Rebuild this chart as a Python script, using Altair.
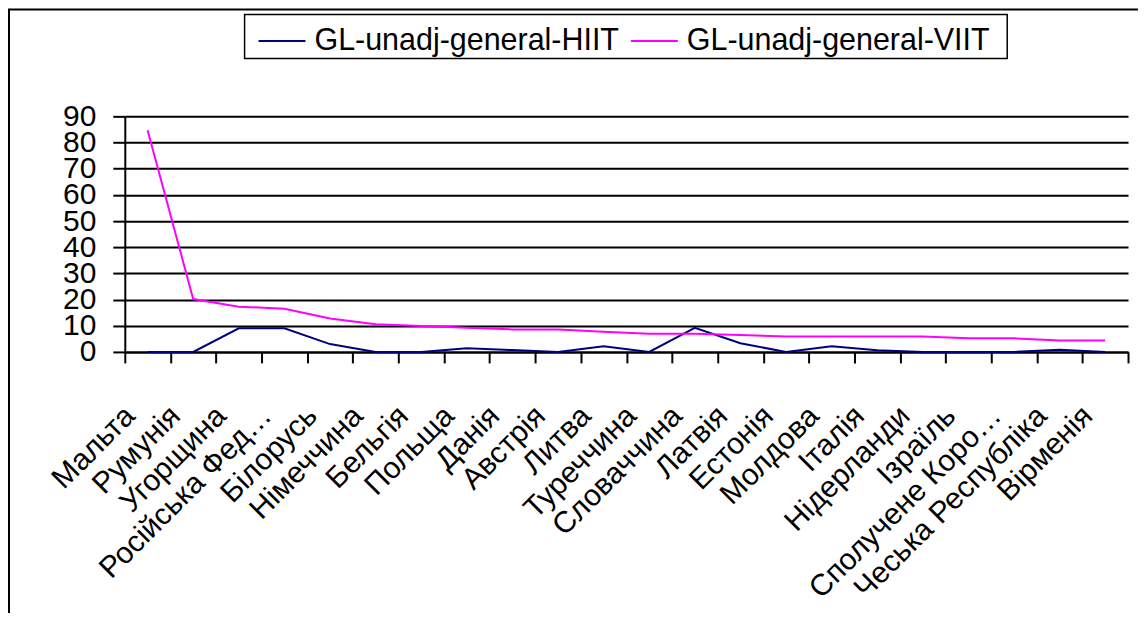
import altair as alt
import pandas as pd

countries = ["Мальта", "Румунія", "Угорщина", "Російська Фед…", "Білорусь", "Німеччина",
             "Бельгія", "Польща", "Данія", "Австрія", "Литва", "Туреччина", "Словаччина",
             "Латвія", "Естонія", "Молдова", "Італія", "Нідерланди", "Ізраїль",
             "Сполучене Коро…", "Чеська Республіка", "Вірменія"]
hiit = [0, 0, 9.0, 9.0, 3.0, 0, 0, 1.4, 0.7, 0, 2.2, 0, 9.2, 3.3, 0, 2.2, 0.6, 0, 0, 0, 0.8, 0]
viit = [84.7, 20.2, 17.3, 16.5, 12.8, 10.6, 9.9, 9.2, 8.6, 8.6, 7.7, 6.9, 6.9, 6.5,
        5.9, 5.9, 5.9, 5.9, 5.2, 5.2, 4.4, 4.4]
series = ["GL-unadj-general-HIIT", "GL-unadj-general-VIIT"]
colors = ["#000080", "#FF00FF"]

rows = []
for i, c in enumerate(countries):
    rows.append({"country": c, "series": series[0], "value": hiit[i], "order": i})
    rows.append({"country": c, "series": series[1], "value": viit[i], "order": i})
df = pd.DataFrame(rows)

FONT = "Liberation Sans"

lines = alt.Chart(df).mark_line(strokeWidth=2).encode(
    x=alt.X("country:N", sort=countries,
            scale=alt.Scale(type="band", paddingInner=0, paddingOuter=0),
            axis=alt.Axis(title=None, labelAngle=-45, labelAlign="right",
                          labelBaseline="middle", labelPadding=48, labelOffset=-18,
                          labelFontSize=30, labelFont=FONT, labelColor="black",
                          labelLimit=400, labelOverlap=False, tickBand="extent",
                          tickSize=11, tickColor="black", tickWidth=2,
                          domainColor="black", domainWidth=2, grid=False)),
    y=alt.Y("value:Q", scale=alt.Scale(domain=[0, 90], nice=False),
            axis=alt.Axis(title=None, values=list(range(0, 91, 10)),
                          labelFontSize=30, labelFont=FONT, labelColor="black",
                          labelOverlap=False, labelFlush=False,
                          labelPadding=17, tickSize=12, tickColor="black",
                          tickWidth=2, domainColor="black", domainWidth=2,
                          grid=True, gridColor="black", gridWidth=2)),
    color=alt.Color("series:N", scale=alt.Scale(domain=series, range=colors),
                    legend=alt.Legend(title=None, orient="none", direction="horizontal",
                                      legendX=133, legendY=-100,
                                      symbolType="stroke", symbolSize=2209,
                                      symbolStrokeWidth=2, labelFontSize=30.5,
                                      labelFont=FONT, labelColor="black",
                                      labelLimit=400, labelOffset=8,
                                      columnPadding=7, padding=0)),
    order="order:Q",
)

one = pd.DataFrame({"k": [0]})
frame = alt.Chart(one).mark_rect(fill=None, stroke="black", strokeWidth=2).encode(
    x=alt.value(-116), x2=alt.value(1200), y=alt.value(-107), y2=alt.value(560)
)
legend_box = alt.Chart(one).mark_rect(fill="white", stroke="black", strokeWidth=1.5).encode(
    x=alt.value(120), x2=alt.value(884), y=alt.value(-102), y2=alt.value(-58)
)

chart = alt.layer(frame, legend_box, lines).properties(
    width=1005, height=236,
    autosize=alt.AutoSizeParams(type="none"),
    padding={"left": 117, "top": 108, "right": 10, "bottom": 261},
    background="white",
).configure_view(strokeWidth=0)

chart.save("out.html", embed_options={"renderer": "svg", "actions": False})
